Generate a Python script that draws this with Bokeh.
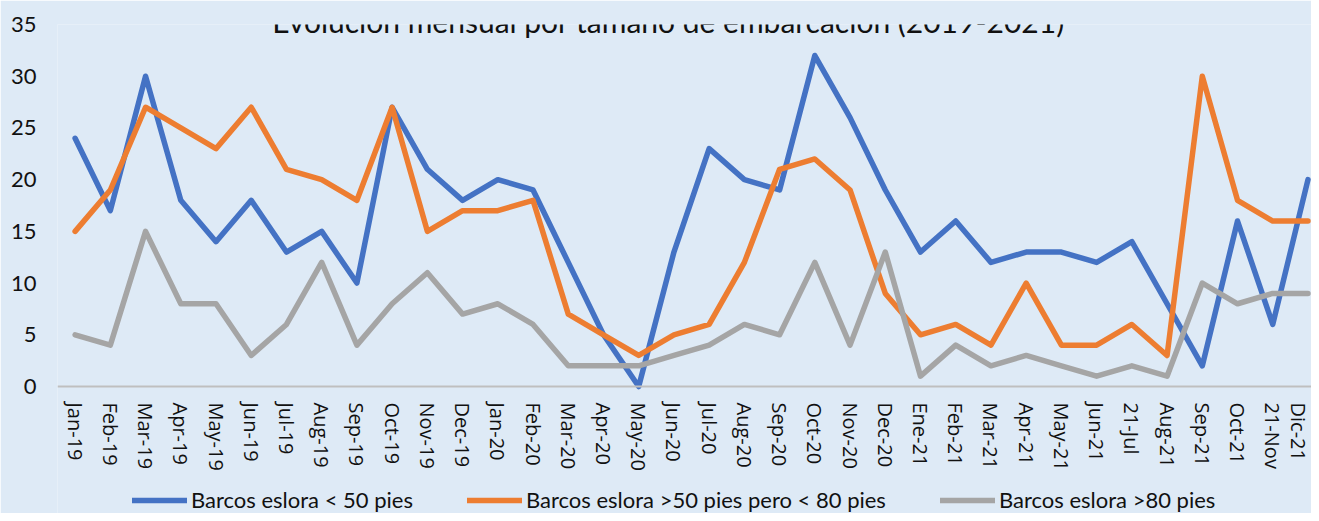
from bokeh.plotting import figure
from bokeh.models import Range1d, FixedTicker, Legend, LegendItem, Label
from bokeh.embed import file_html
from bokeh.resources import INLINE

months = ["Jan-19", "Feb-19", "Mar-19", "Apr-19", "May-19", "Jun-19", "Jul-19", "Aug-19",
          "Sep-19", "Oct-19", "Nov-19", "Dec-19", "Jan-20", "Feb-20", "Mar-20", "Apr-20",
          "May-20", "Jun-20", "Jul-20", "Aug-20", "Sep-20", "Oct-20", "Nov-20", "Dec-20",
          "Ene-21", "Feb-21", "Mar-21", "Apr-21", "May-21", "Jun-21", "21-Jul", "Aug-21",
          "Sep-21", "Oct-21", "21-Nov", "Dic-21"]

small = [24, 17, 30, 18, 14, 18, 13, 15, 10, 27, 21, 18, 20, 19, 12, 5, 0, 13, 23, 20, 19, 32,
         26, 19, 13, 16, 12, 13, 13, 12, 14, 8, 2, 16, 6, 20]
medium = [15, 19, 27, 25, 23, 27, 21, 20, 18, 27, 15, 17, 17, 18, 7, 5, 3, 5, 6, 12, 21, 22,
          19, 9, 5, 6, 4, 10, 4, 4, 6, 3, 30, 18, 16, 16]
large = [5, 4, 15, 8, 8, 3, 6, 12, 4, 8, 11, 7, 8, 6, 2, 2, 2, 3, 4, 6, 5, 12, 4, 13, 1, 4, 2,
         3, 2, 1, 2, 1, 10, 8, 9, 9]

series_names = ["Barcos eslora < 50 pies", "Barcos eslora >50 pies pero < 80 pies",
                "Barcos eslora >80 pies"]
y_ticks = [0, 5, 10, 15, 20, 25, 30, 35]
title_text = "Evolución mensual por tamaño de embarcación (2019-2021)"

BG = "#DEEAF6"
COLORS = ["#4472C4", "#ED7D31", "#A5A5A5"]
TXT = "#111111"

idx = list(range(len(months)))

# frame covers the whole area below the top border; value 0 sits 127 px above the bottom
FRAME_H = 489
Y_MIN = -35 * 127 / 362

p = figure(frame_width=1254, frame_height=FRAME_H, output_backend="svg", toolbar_location=None,
           x_range=Range1d(-0.5, 35.1), y_range=Range1d(Y_MIN, 35),
           min_border_left=57, min_border_right=0, min_border_top=24, min_border_bottom=0,
           background_fill_color=BG, border_fill_color=BG, outline_line_color=None)

p.xgrid.visible = False
p.ygrid.visible = False

renderers = []
for vals, col in zip([small, medium, large], COLORS):
    r = p.line(idx, vals, line_color=col, line_width=5.5, line_join="round", line_cap="round")
    renderers.append(r)

# x axis, drawn at value 0
xa = p.xaxis[0]
xa.fixed_location = 0
xa.ticker = FixedTicker(ticks=idx)
xa.major_label_overrides = {i: m for i, m in enumerate(months)}
xa.major_label_orientation = "vertical"
xa.major_tick_line_color = None
xa.major_tick_out = 0
xa.major_tick_in = 0
xa.minor_tick_line_color = None
xa.minor_tick_out = 0
xa.axis_line_color = "#BFBFBF"
xa.axis_line_width = 2
xa.major_label_text_font = "Open Sans"
xa.major_label_text_font_size = "20px"
xa.major_label_text_color = TXT
xa.major_label_standoff = 16

# y axis
ya = p.yaxis[0]
ya.ticker = FixedTicker(ticks=y_ticks)
ya.axis_line_color = None
ya.major_tick_line_color = None
ya.major_tick_out = 0
ya.major_tick_in = 0
ya.minor_tick_line_color = None
ya.minor_tick_out = 0
ya.major_label_text_font = "Lato"
ya.major_label_text_font_size = "22px"
ya.major_label_text_color = TXT
ya.major_label_standoff = 21

# title
p.add_layout(Label(x=611, y=FRAME_H + 22, x_units="screen", y_units="screen", text=title_text,
                   text_align="center", text_baseline="top", text_font="Lato",
                   text_font_size="30px", text_color=TXT))

# one legend per series, placed at the bottom of the frame
leg_x = [75, 410, 883]
for name, r, lx in zip(series_names, renderers, leg_x):
    lg = Legend(items=[LegendItem(label=name, renderers=[r])], location=(lx, 0),
                orientation="horizontal", glyph_width=55, glyph_height=20, label_standoff=4,
                padding=0, margin=0, border_line_alpha=0, background_fill_alpha=0,
                label_text_font="Lato", label_text_font_size="22px",
                label_text_color=TXT, label_height=20)
    p.add_layout(lg, "center")

open("out.html", "w").write(file_html(p, INLINE))
